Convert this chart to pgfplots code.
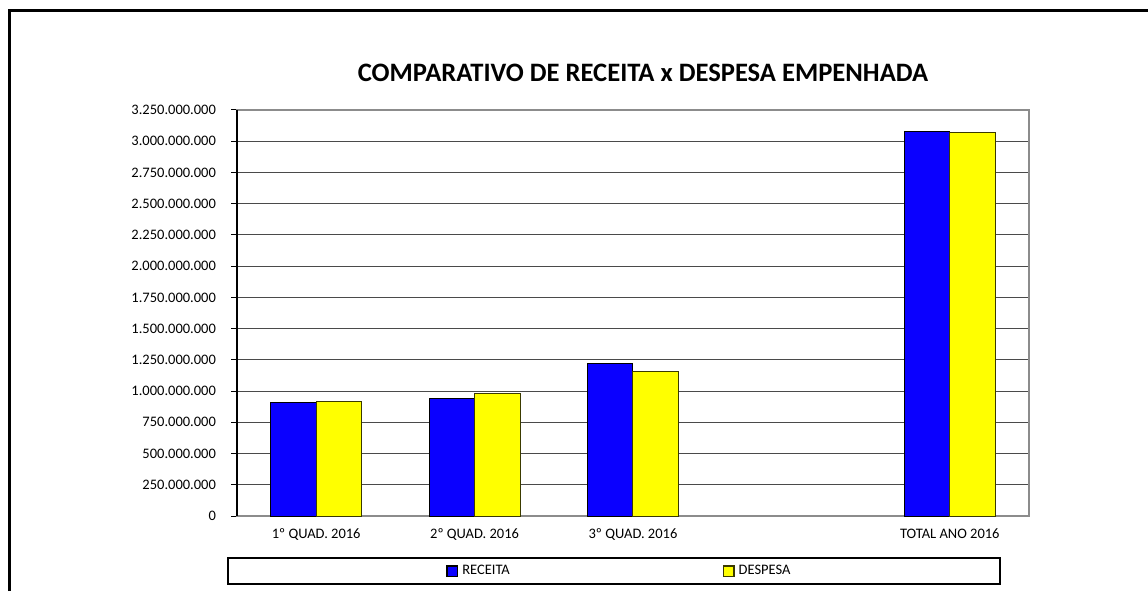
\documentclass[border=0pt]{standalone}
\usepackage{fontspec}
\setmainfont{Carlito}
\usepackage{pgfplots}
\pgfplotsset{compat=1.18}
\definecolor{recblue}{HTML}{0A00FF}
\definecolor{despyel}{HTML}{FFFF00}
\definecolor{despedge}{HTML}{3A3A00}
\definecolor{gridc}{HTML}{4A4A4A}
\definecolor{framegrey}{HTML}{8C8C8C}

\pgfplotstableread{
x receita despesa
0 907 920
1 941 979
2 1224 1160
4 3074 3066
}\quadtab

\begin{document}
\begin{tikzpicture}
\useasboundingbox (0,0) rectangle (574pt,295.5pt);
% outer frame (only left and top edges are inside the picture)
\draw[line width=1.5pt, black] (4.5pt,0) -- (4.5pt,290.5pt) -- (574pt,290.5pt);
% title
\node[font=\bfseries\fontsize{13.3}{15}\selectfont] at (321.5pt,259pt)
  {COMPARATIVO DE RECEITA x DESPESA EMPENHADA};
% legend frame
\draw[line width=0.9pt, black] (114pt,3.5pt) rectangle (500pt,16.6pt);

\begin{axis}[
    at={(118.5pt,37.5pt)}, anchor=south west,
    scale only axis,
    width=396pt, height=203pt,
    ybar=0pt,
    bar width=22.7pt,
    xmin=-0.5, xmax=4.5,
    ymin=0, ymax=3250,
    xtick={0,1,2,3,4},
    xticklabels={1º QUAD. 2016, 2º QUAD. 2016, 3º QUAD. 2016, , TOTAL ANO 2016},
    xtick style={draw=none},
    minor xtick={-0.5,0.5,1.5,2.5,3.5,4.5},
    minor x tick style={black!70, line width=0.5pt},
    minor tick length=3pt,
    xtick pos=bottom, ytick pos=left,
    ytick={0,250,...,3250},
    yticklabels={0, 250.000.000, 500.000.000, 750.000.000, 1.000.000.000,
      1.250.000.000, 1.500.000.000, 1.750.000.000, 2.000.000.000,
      2.250.000.000, 2.500.000.000, 2.750.000.000, 3.000.000.000, 3.250.000.000},
    yticklabel style={xshift=-4pt},
    ytick style={black, line width=0.5pt},
    major tick length=3pt,
    tick align=outside,
    ticklabel style={font=\fontsize{7.25}{8}\selectfont, text=black},
    /pgf/number format/assume math mode=true,
    ymajorgrids,
    major grid style={gridc, line width=0.55pt},
    axis line style={framegrey, line width=1pt},
    clip=false,
    legend style={at={(0.264,-0.1355)}, anchor=west, draw=none, fill=none,
      font=\fontsize{7.25}{8}\selectfont, inner sep=0pt,
      /tikz/every even column/.append style={column sep=104.5pt}},
    legend columns=2,
    legend image code/.code={\draw[#1, line width=0.7pt] (0pt,-2.6pt) rectangle (5.2pt,2.6pt);},
]
\addplot[fill=recblue, draw=black, line width=0.5pt] table[x=x, y=receita] {\quadtab};
\addplot[fill=despyel, draw=despedge, line width=0.5pt] table[x=x, y=despesa] {\quadtab};
\legend{RECEITA, DESPESA}
\draw[black, line width=0.6pt] (rel axis cs:0,0) -- (rel axis cs:0,1);
\end{axis}
\end{tikzpicture}
\end{document}
